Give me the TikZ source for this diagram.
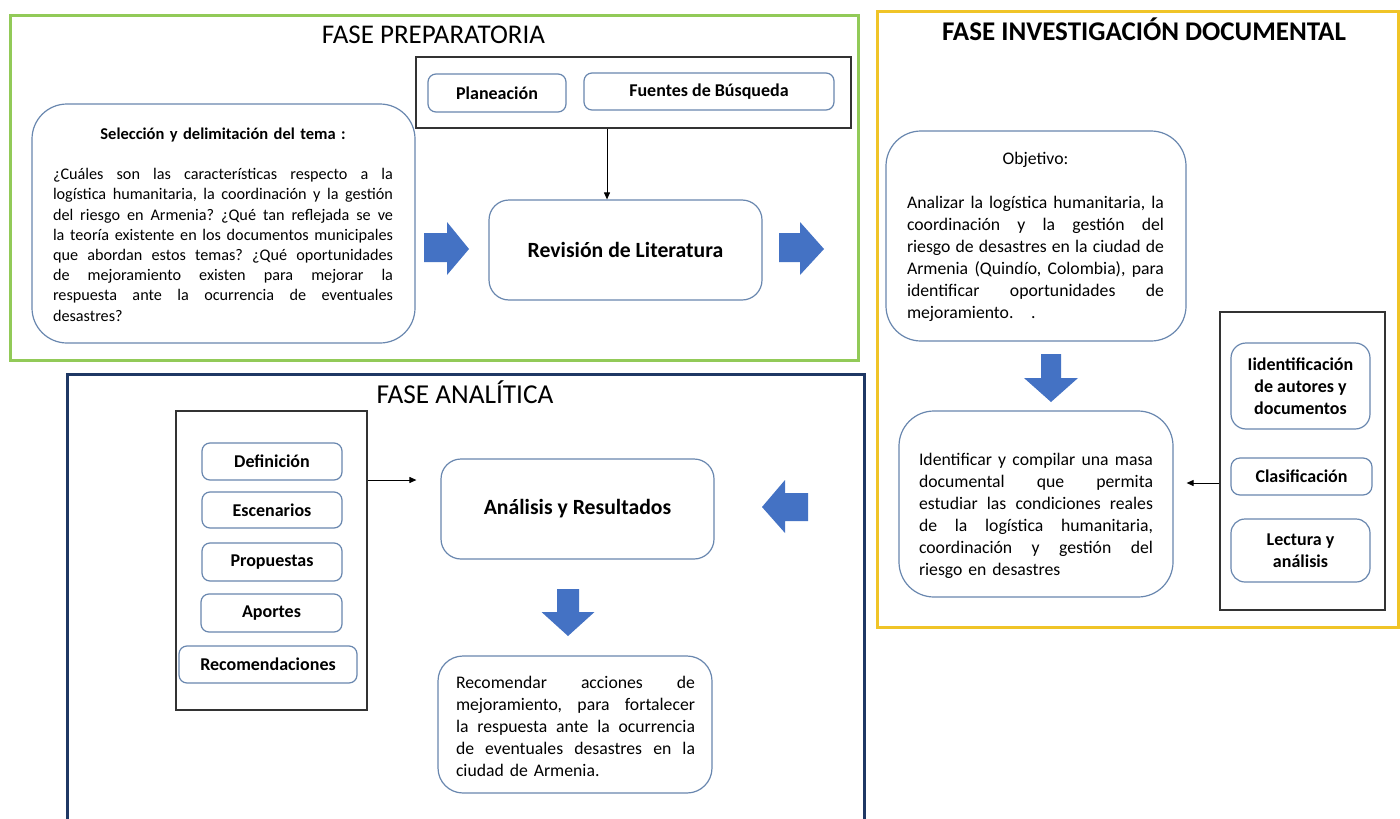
\documentclass[tikz,border=0pt]{standalone}
\usepackage{fontspec}
\setmainfont{Carlito}
\usetikzlibrary{arrows.meta}
\definecolor{frgreen}{RGB}{146,202,88}
\definecolor{fryellow}{RGB}{240,196,40}
\definecolor{frnavy}{RGB}{31,56,100}
\definecolor{barrow}{RGB}{68,114,196}
\definecolor{rboxc}{RGB}{105,135,175}
\frenchspacing
\newcommand{\jwidth}{300pt}
\newcommand{\JL}[1]{\leavevmode\hbox to \jwidth{\spaceskip=\fontdimen2\font plus 1fil\relax\xspaceskip=\spaceskip #1}}
\newcommand{\LL}[1]{\leavevmode\hbox to \jwidth{#1\hfil}}
\tikzset{
  frame/.style={line width=3pt},
  rbox/.style={draw=rboxc, line width=1.2pt, fill=white, inner sep=0pt},
  smallbox/.style={rbox, rounded corners=8pt, font=\bfseries\fontsize{18}{22}\selectfont, align=center},
  groupbox/.style={draw=black!80, line width=1.1pt, inner sep=0pt},
  bodytext/.style={inner sep=0pt, align=left, font=\fontsize{17.7}{22}\selectfont},
  conn/.style={draw=black, line width=1pt, -{Triangle[length=7pt,width=6pt]}},
  ftitle/.style={anchor=base, inner sep=0pt, font=\fontsize{27}{30}\selectfont},
  bigtext/.style={font=\bfseries\fontsize{21.7}{25}\selectfont},
  blockarrow/.style={fill=barrow}
}
\begin{document}
\begin{tikzpicture}[x=1pt,y=-1pt]
\useasboundingbox (0,0) rectangle (1400,819);
\clip (0,0) rectangle (1400,819);
\fill[white] (0,0) rectangle (1400,819);

% ---------- frames ----------
\draw[frame, frgreen] (10,15) rectangle (858,360);
\draw[frame, fryellow] (877,11) rectangle (1398,627);
\draw[frame, frnavy] (67,374) rectangle (864,840);

\node[ftitle] (tPrep) at (433.5,43) {FASE PREPARATORIA};
\node[ftitle, font=\bfseries\fontsize{27}{30}\selectfont] (tInv) at (1144,40) {FASE INVESTIGACIÓN DOCUMENTAL};
\node[ftitle, font=\fontsize{27.3}{30}\selectfont] (tAna) at (465,403) {FASE ANALÍTICA};

% ---------- FASE PREPARATORIA ----------
\node[rbox, rounded corners=35pt, minimum width=383pt, minimum height=239pt] (selB) at (223.5,223.5) {};
\node[inner sep=0pt, text width=340pt, align=center, font=\fontsize{16.2}{20.2}\selectfont] (selT) at (223,224.5) {%
\renewcommand{\jwidth}{340pt}%
{\bfseries\fontsize{16.5}{20.2}\selectfont Selección y delimitación del tema :}\\[20.2pt]
\JL{¿Cuáles son las características respecto a la}\\
\JL{logística humanitaria, la coordinación y la gestión}\\
\JL{del riesgo en Armenia? ¿Qué tan reflejada se ve}\\
\JL{la teoría existente en los documentos municipales}\\
\JL{que abordan estos temas? ¿Qué oportunidades}\\
\JL{de mejoramiento existen para mejorar la}\\
\JL{respuesta ante la ocurrencia de eventuales}\\
\LL{desastres?}};

\node[groupbox, minimum width=435pt, minimum height=71pt] (topR) at (633.5,92.5) {};
\node[smallbox, minimum width=138pt, minimum height=38pt] (plan) at (497,93) {Planeación};
\node[smallbox, minimum width=250pt, minimum height=37pt] (fuen) at (709,91.5) {Fuentes de Búsqueda};

\node[rbox, rounded corners=20pt, minimum width=273pt, minimum height=100pt, bigtext] (revB) at (625.5,250) {Revisión de Literatura};
\coordinate (ax) at (607,0);
\draw[conn] (topR.south -| ax) -- (revB.north -| ax);

\fill[blockarrow] (424,233) -- (447,233) -- (447,222) -- (469,249) -- (447,275) -- (447,262) -- (424,262) -- cycle;
\fill[blockarrow] (779,233) -- (800,233) -- (800,222) -- (824,249) -- (800,275) -- (800,262) -- (779,262) -- cycle;

% ---------- FASE INVESTIGACION DOCUMENTAL ----------
\node[rbox, rounded corners=35pt, minimum width=300pt, minimum height=210pt] (objB) at (1036,236) {};
\node[bodytext, text width=257pt, align=center] (objT) at (1035.5,236.5) {%
\renewcommand{\jwidth}{257pt}%
Objetivo:\\[22pt]
\JL{Analizar la logística humanitaria, la}\\
\JL{coordinación y la gestión del}\\
\JL{riesgo de desastres en la ciudad de}\\
\JL{Armenia (Quindío, Colombia), para}\\
\JL{identificar oportunidades de}\\
\LL{mejoramiento.\ \ \ .}};

\fill[blockarrow] (1041,354) -- (1061,354) -- (1061,378) -- (1078,378) -- (1051,402) -- (1024,378) -- (1041,378) -- cycle;

\node[rbox, rounded corners=35pt, minimum width=274pt, minimum height=186pt] (idB) at (1036,504) {};
\node[bodytext, text width=234pt] (idT) at (1036,515.5) {%
\renewcommand{\jwidth}{234pt}%
\JL{Identificar y compilar una masa}\\
\JL{documental que permita}\\
\JL{estudiar las condiciones reales}\\
\JL{de la logística humanitaria,}\\
\JL{coordinación y gestión del}\\
\LL{riesgo en desastres}};

\node[groupbox, minimum width=165pt, minimum height=298pt] (rightR) at (1302.5,461) {};
\node[smallbox, rounded corners=15pt, minimum width=139pt, minimum height=86pt] (iid) at (1300.5,386) {Iidentificación\\de autores y\\documentos};
\node[smallbox, rounded corners=9pt, minimum width=141pt, minimum height=37pt] (clas) at (1301.5,476.5) {Clasificación};
\node[smallbox, rounded corners=14pt, minimum width=139pt, minimum height=63pt] (lect) at (1300.5,550.5) {Lectura y\\análisis};
\coordinate (ay) at (0,483);
\draw[conn, shorten >=13pt] (rightR.west |- ay) -- (idB.east |- ay);

% ---------- FASE ANALITICA ----------
\node[groupbox, minimum width=191pt, minimum height=299pt] (leftR) at (271.5,560.5) {};
\node[smallbox, minimum width=140pt, minimum height=37pt] (defi) at (272,461.5) {Definición};
\node[smallbox, minimum width=140pt, minimum height=36pt] (esce) at (272,510) {Escenarios};
\node[smallbox, minimum width=140pt, minimum height=38pt] (prop) at (272,562) {Propuestas};
\node[smallbox, minimum width=141pt, minimum height=38pt] (apor) at (271.5,613) {Aportes};
\node[smallbox, minimum width=178pt, minimum height=37pt] (reco) at (268,664.5) {Recomendaciones};

\node[rbox, rounded corners=20pt, minimum width=273pt, minimum height=100pt, bigtext] (anaB) at (577.5,509) {Análisis y Resultados};
\coordinate (by) at (0,480);
\draw[conn, shorten >=24pt] (leftR.east |- by) -- (anaB.west |- by);

\fill[blockarrow] (808,493) -- (785,493) -- (785,480) -- (762,507) -- (785,533) -- (785,521) -- (808,521) -- cycle;
\fill[blockarrow] (557,589) -- (579,589) -- (579,612) -- (594.5,612) -- (568,636) -- (541.5,612) -- (557,612) -- cycle;

\node[rbox, rounded corners=25pt, minimum width=274pt, minimum height=137pt] (recB) at (575,724.5) {};
\node[bodytext, text width=239pt] (recT) at (575.5,726) {%
\renewcommand{\jwidth}{239pt}%
\JL{Recomendar acciones de}\\
\JL{mejoramiento, para fortalecer}\\
\JL{la respuesta ante la ocurrencia}\\
\JL{de eventuales desastres en la}\\
\LL{ciudad de Armenia.}};
\end{tikzpicture}
\end{document}
